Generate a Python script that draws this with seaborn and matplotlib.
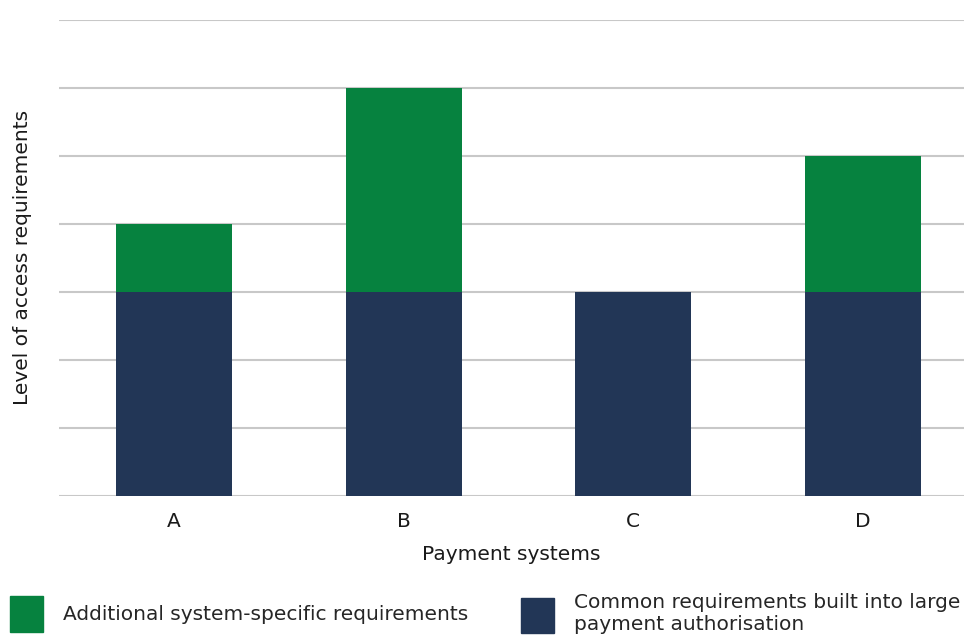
import matplotlib
matplotlib.use("Agg")
import matplotlib.pyplot as plt
import seaborn as sns
import pandas as pd
from matplotlib.patches import Patch

# values (units = gridline steps)
systems = ["A", "B", "C", "D"]
common_req = [3, 3, 3, 3]
additional_req = [1, 3, 0, 2]

GREEN = "#06823F"
NAVY = "#223656"
GRID = "#c8c8c8"
TXT = "#1a1a1a"

df = pd.DataFrame({"system": systems, "common": common_req, "additional": additional_req})
df["total"] = df["common"] + df["additional"]

sns.set_style("white")
plt.rcParams["font.family"] = ["DejaVu Sans"]

fig = plt.figure(figsize=(9.64, 6.36), dpi=100)
ax = fig.add_axes([59 / 964, (636 - 495.7) / 636, 1 - 59 / 964, (495.7 - 20) / 636])

# stacked: draw total in green, then common part in navy on top
sns.barplot(data=df, x="system", y="total", color=GREEN, width=0.505,
            saturation=1, linewidth=0, ax=ax, zorder=2)
sns.barplot(data=df, x="system", y="common", color=NAVY, width=0.505,
            saturation=1, linewidth=0, ax=ax, zorder=3)

ax.set_ylim(0, 7)
ax.set_xlim(-0.5, 3.44)
ax.set_yticks(range(0, 8))
ax.set_yticklabels([])
ax.yaxis.grid(True, color=GRID, linewidth=1.5)
ax.xaxis.grid(False)
ax.set_axisbelow(True)
ax.tick_params(axis="both", length=0)
ax.tick_params(axis="x", labelsize=14.5, pad=12, colors=TXT)
for s in ax.spines.values():
    s.set_visible(False)

ax.set_xlabel("Payment systems", fontsize=14.5, labelpad=10, color=TXT)
ax.set_ylabel("Level of access requirements", fontsize=14.5, color=TXT)
ax.yaxis.set_label_coords(-27 / 905, 0.5)

# legend at the bottom (two separate blocks, as in the original)
hkw = dict(frameon=False, fontsize=14.5, handlelength=1.65, handleheight=2.3,
           handletextpad=1.0, borderpad=0, borderaxespad=0, loc="center left")
fig.legend(handles=[Patch(color=GREEN)], labels=["Additional system-specific requirements"],
           bbox_to_anchor=(10 / 964, 22 / 636), **hkw)
fig.legend(handles=[Patch(color=NAVY)],
           labels=["Common requirements built into large\npayment authorisation"],
           bbox_to_anchor=(521 / 964, 22 / 636), **hkw)

fig.savefig("out.png", dpi=100)
